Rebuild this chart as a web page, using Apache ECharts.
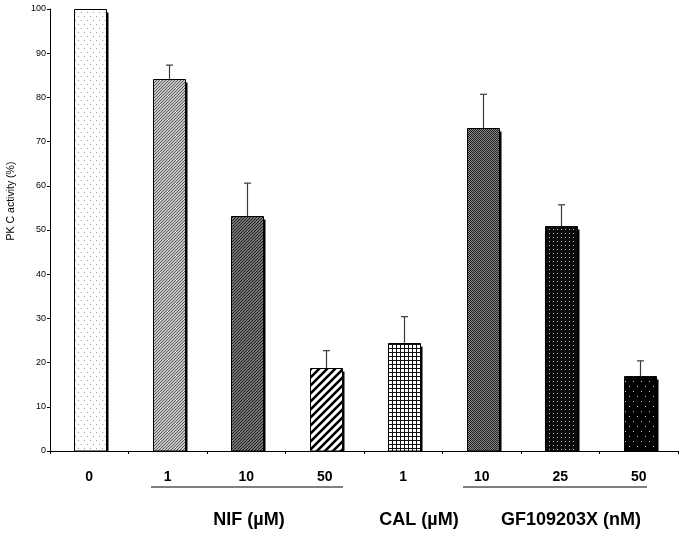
<!DOCTYPE html>
<html>
<head>
<meta charset="utf-8">
<script src="https://cdn.jsdelivr.net/npm/echarts@6/dist/echarts.min.js"></script>
<style>html,body{margin:0;padding:0;background:#fff;}#c{width:685px;height:537px;}</style>
</head>
<body>
<div id="c"></div>
<script>
// ---- data ----
var categories = ['0', '1', '10', '50', '1', '10', '25', '50'];
var activity = [100, 84.2, 53.1, 18.8, 24.5, 73.0, 50.8, 16.9];
var errorSD = [0, 3.1, 7.5, 3.9, 5.9, 7.7, 4.9, 3.5];
var yTicks = [0, 10, 20, 30, 40, 50, 60, 70, 80, 90, 100];
var groupLabels = ['NIF (\u00b5M)', 'CAL (\u00b5M)', 'GF109203X (nM)'];
var yTitle = 'PK C activity (%)';

// ---- patterns ----
function makePattern(w, h, draw) {
  var c = document.createElement('canvas');
  c.width = w; c.height = h;
  var ctx = c.getContext('2d');
  draw(ctx, w, h);
  return { image: c, repeat: 'repeat' };
}
function diag(ctx, s, color, lw) {
  ctx.strokeStyle = color; ctx.lineWidth = lw;
  ctx.beginPath();
  ctx.moveTo(-1, s + 1); ctx.lineTo(s + 1, -1);
  ctx.moveTo(-1, 1); ctx.lineTo(1, -1);
  ctx.moveTo(s - 1, s + 1); ctx.lineTo(s + 1, s - 1);
  ctx.stroke();
}
var patterns = [
  makePattern(6, 8, function (ctx, w, h) {
    ctx.fillStyle = '#fff'; ctx.fillRect(0, 0, w, h);
    ctx.fillStyle = '#9a9a9a';
    ctx.fillRect(0, 0, 1, 1); ctx.fillRect(3, 4, 1, 1);
  }),
  makePattern(3, 3, function (ctx, w, h) {
    ctx.fillStyle = '#f4f4f4'; ctx.fillRect(0, 0, w, h);
    diag(ctx, 3, '#555', 1.1);
  }),
  makePattern(3, 3, function (ctx, w, h) {
    ctx.fillStyle = '#cfcfcf'; ctx.fillRect(0, 0, w, h);
    diag(ctx, 3, '#1a1a1a', 1.4);
  }),
  makePattern(8, 8, function (ctx, w, h) {
    ctx.fillStyle = '#fff'; ctx.fillRect(0, 0, w, h);
    diag(ctx, 8, '#000', 2.6);
  }),
  makePattern(4, 4, function (ctx, w, h) {
    ctx.fillStyle = '#fff'; ctx.fillRect(0, 0, w, h);
    ctx.fillStyle = '#111';
    ctx.fillRect(0, 0, w, 1); ctx.fillRect(0, 0, 1, h);
  }),
  makePattern(2, 2, function (ctx, w, h) {
    ctx.fillStyle = '#8a8a8a'; ctx.fillRect(0, 0, w, h);
    ctx.fillStyle = '#1e1e1e';
    ctx.fillRect(0, 0, 1, 1); ctx.fillRect(1, 1, 1, 1);
  }),
  makePattern(4, 4, function (ctx, w, h) {
    ctx.fillStyle = '#0a0a0a'; ctx.fillRect(0, 0, w, h);
    ctx.fillStyle = '#b8b8b8';
    ctx.fillRect(1, 1, 1, 1);
  }),
  makePattern(8, 10, function (ctx, w, h) {
    ctx.fillStyle = '#000'; ctx.fillRect(0, 0, w, h);
    ctx.fillStyle = '#cfcfcf';
    ctx.fillRect(1, 1, 1, 1); ctx.fillRect(5, 6, 1, 1);
  })
];

var barData = activity.map(function (v, i) { return [i, v]; });
var errData = activity.map(function (v, i) { return [i, v, v + errorSD[i]]; });

var chart = echarts.init(document.getElementById('c'), null, { renderer: 'canvas' });
var FONT = '"Liberation Sans", Arial, sans-serif';
var BAR_W = 32;
chart.setOption({
  animation: false,
  backgroundColor: '#fff',
  textStyle: { fontFamily: FONT },
  grid: { left: 50, right: 7, top: 9, bottom: 86, containLabel: false },
  xAxis: {
    type: 'category',
    data: categories.map(function (c, i) { return i + '|' + c; }),
    axisLine: { lineStyle: { color: '#000', width: 1 } },
    axisTick: { show: true, length: 3, lineStyle: { color: '#000' }, interval: 0 },
    axisLabel: {
      interval: 0, margin: 19, color: '#000', fontSize: 14, fontWeight: 'bold', fontFamily: FONT,
      formatter: function (v) { return v.split('|')[1]; }
    }
  },
  yAxis: {
    type: 'value', min: yTicks[0], max: yTicks[yTicks.length - 1], interval: 10,
    axisLine: { show: true, lineStyle: { color: '#000', width: 1 } },
    axisTick: { show: true, length: 3, lineStyle: { color: '#000' } },
    axisLabel: { color: '#000', fontSize: 9, margin: 4, fontFamily: FONT },
    splitLine: { show: false }
  },
  series: [
    {
      type: 'custom',
      data: barData,
      z: 2,
      renderItem: function (params, api) {
        var i = api.value(0);
        var top = api.coord([i, api.value(1)]);
        var base = api.coord([i, 0]);
        var x = Math.round(top[0] - BAR_W / 2 + 1) + 0.5;
        var y = Math.round(top[1]) + 0.5;
        var h = base[1] - y;
        return {
          type: 'group',
          children: [
            { type: 'rect', shape: { x: x + 2, y: y + 3, width: BAR_W, height: h - 3 }, style: { fill: '#000' } },
            { type: 'rect', shape: { x: x, y: y, width: BAR_W, height: h }, style: { fill: patterns[i], stroke: '#000', lineWidth: 1 } }
          ]
        };
      }
    },
    {
      type: 'custom',
      data: errData,
      z: 3,
      renderItem: function (params, api) {
        var i = api.value(0);
        if (api.value(2) <= api.value(1)) return null;
        var p0 = api.coord([i, api.value(1)]);
        var p1 = api.coord([i, api.value(2)]);
        var cx = Math.round(p0[0] + 1) + 0.5;
        var style = { stroke: '#3a3a3a', lineWidth: 1.2 };
        return {
          type: 'group',
          children: [
            { type: 'line', shape: { x1: cx, y1: p0[1], x2: cx, y2: p1[1] }, style: style },
            { type: 'line', shape: { x1: cx - 3.5, y1: p1[1], x2: cx + 3.5, y2: p1[1] }, style: style }
          ]
        };
      }
    }
  ],
  graphic: [
    { type: 'text', x: 11, y: 201, rotation: Math.PI / 2,
      style: { text: yTitle, fontSize: 10.5, fontFamily: FONT, fill: '#000', align: 'center', verticalAlign: 'middle' } },
    { type: 'line', shape: { x1: 151, y1: 487, x2: 343, y2: 487 }, style: { stroke: '#000', lineWidth: 1 } },
    { type: 'line', shape: { x1: 463, y1: 487, x2: 647, y2: 487 }, style: { stroke: '#000', lineWidth: 1 } },
    { type: 'text', x: 249, y: 520, style: { text: groupLabels[0], fontSize: 18, fontWeight: 'bold', fontFamily: FONT, fill: '#000', align: 'center', verticalAlign: 'middle' } },
    { type: 'text', x: 419, y: 520, style: { text: groupLabels[1], fontSize: 18, fontWeight: 'bold', fontFamily: FONT, fill: '#000', align: 'center', verticalAlign: 'middle' } },
    { type: 'text', x: 571, y: 520, style: { text: groupLabels[2], fontSize: 18, fontWeight: 'bold', fontFamily: FONT, fill: '#000', align: 'center', verticalAlign: 'middle' } }
  ]
});
</script>
</body>
</html>
